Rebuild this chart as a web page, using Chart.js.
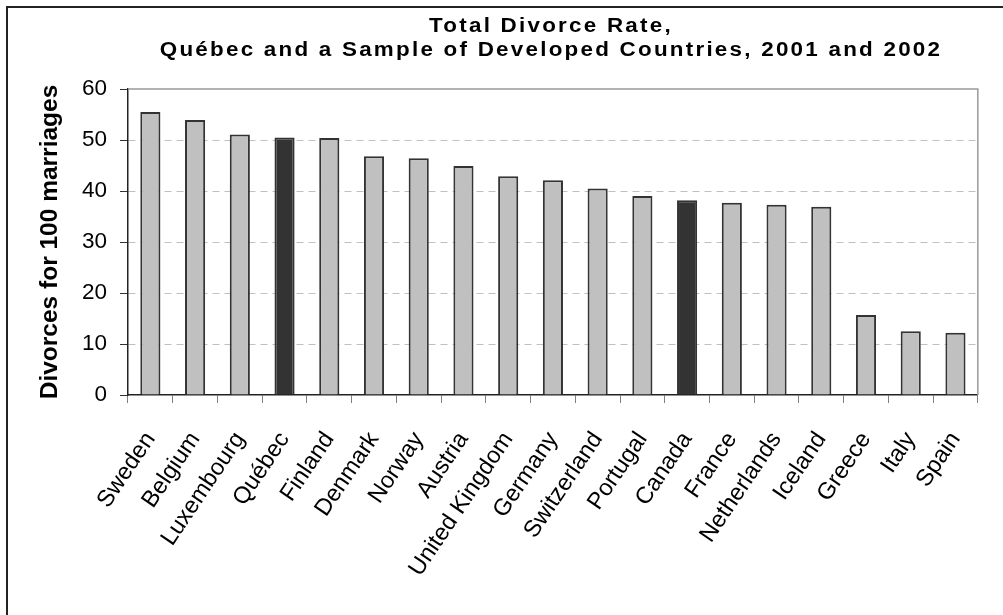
<!DOCTYPE html>
<html lang="en">
<head>
    <meta charset="UTF-8">
    <title>Total Divorce Rate</title>
    <script src="https://cdn.jsdelivr.net/npm/chart.js"></script>
    <style>
        html, body {
            margin: 0;
            padding: 0;
            background: #fff;
            overflow: hidden;
        }
        .frame {
            position: absolute;
            left: 6px;
            top: 6px;
            width: 1020px;
            height: 640px;
            border-left: 2px solid #222;
            border-top: 2px solid #222;
            box-sizing: border-box;
        }
        .chart-container {
            position: absolute;
            left: 0;
            top: 0;
            width: 1003px;
            height: 615px;
        }
    </style>
</head>
<body>
<div class="frame"></div>
<div class="chart-container">
    <canvas id="divorceChart" width="1003" height="615"></canvas>
</div>

<script>
    const countries = ['Sweden', 'Belgium', 'Luxembourg', 'Québec', 'Finland', 'Denmark', 'Norway',
        'Austria', 'United Kingdom', 'Germany', 'Switzerland', 'Portugal', 'Canada', 'France',
        'Netherlands', 'Iceland', 'Greece', 'Italy', 'Spain'];
    const divorceRates = [55.5, 53.9, 51.1, 50.5, 50.4, 46.8, 46.4, 44.9, 42.9, 42.1, 40.5, 39.0,
        38.2, 37.7, 37.3, 36.9, 15.7, 12.5, 12.2];
    const highlighted = ['Québec', 'Canada'];
    const titleLines = ['Total Divorce Rate,', 'Québec and a Sample of Developed Countries, 2001 and 2002'];
    const yAxisTitle = 'Divorces for 100 marriages';

    const FONT = "'Liberation Sans', Arial, sans-serif";

    // two-line heading, slightly stretched like the spreadsheet export
    const headingPlugin = {
        id: 'heading',
        afterDraw(chart) {
            const ctx = chart.ctx;
            ctx.save();
            ctx.fillStyle = '#000';
            ctx.font = 'bold 20px ' + FONT;
            ctx.letterSpacing = '2px';
            ctx.textAlign = 'center';
            ctx.textBaseline = 'alphabetic';
            ctx.translate(551, 0);
            ctx.scale(1.12, 1);
            ctx.fillText(titleLines[0], 0, 32);
            ctx.fillText(titleLines[1], 0, 56);
            ctx.restore();
        }
    };

    // grey frame on the top and right of the plot area
    const plotFramePlugin = {
        id: 'plotFrame',
        beforeDatasetsDraw(chart) {
            const {ctx, chartArea} = chart;
            ctx.save();
            ctx.strokeStyle = '#999';
            ctx.lineWidth = 1.5;
            ctx.beginPath();
            ctx.moveTo(chartArea.left, chartArea.top);
            ctx.lineTo(chartArea.right, chartArea.top);
            ctx.lineTo(chartArea.right, chartArea.bottom);
            ctx.stroke();
            ctx.restore();
        }
    };

    const fillColors = countries.map(c => highlighted.includes(c) ? '#333333' : '#c0c0c0');

    new Chart(document.getElementById('divorceChart').getContext('2d'), {
        type: 'bar',
        data: {
            labels: countries,
            datasets: [{
                data: divorceRates,
                backgroundColor: fillColors,
                borderColor: '#333',
                borderWidth: 2,
                barPercentage: 0.45,
                categoryPercentage: 1.0
            }]
        },
        options: {
            responsive: false,
            animation: false,
            devicePixelRatio: 1,
            layout: {
                padding: {top: 89, right: 6, left: 0, bottom: 0}
            },
            plugins: {
                legend: {display: false},
                title: {display: false},
                tooltip: {enabled: false}
            },
            scales: {
                x: {
                    afterFit(scale) {
                        scale.height = 220;
                    },
                    grid: {
                        offset: true,
                        drawOnChartArea: false,
                        tickLength: 8,
                        tickColor: '#808080'
                    },
                    border: {color: '#222', width: 1.5},
                    ticks: {
                        autoSkip: false,
                        minRotation: 56,
                        maxRotation: 56,
                        padding: 24,
                        color: '#000',
                        font: {family: FONT, size: 23.5}
                    }
                },
                y: {
                    min: 0,
                    max: 60,
                    afterFit(scale) {
                        scale.width = 128;
                    },
                    ticks: {
                        stepSize: 10,
                        padding: 13,
                        color: '#000',
                        font: {family: FONT, size: 22.5}
                    },
                    grid: {
                        color: (ctx) => (ctx.tick && (ctx.tick.value === 0 || ctx.tick.value === 60)) ? 'rgba(0,0,0,0)' : '#c0c0c0',
                        lineWidth: 1,
                        tickLength: 8,
                        tickColor: '#333'
                    },
                    border: {color: '#222', width: 1.5, dash: [7, 5]},
                    title: {
                        display: true,
                        text: yAxisTitle,
                        color: '#000',
                        font: {family: FONT, size: 24.5, weight: 'bold'},
                        padding: {top: 36, bottom: 0}
                    }
                }
            }
        },
        plugins: [headingPlugin, plotFramePlugin]
    });
</script>
</body>
</html>
